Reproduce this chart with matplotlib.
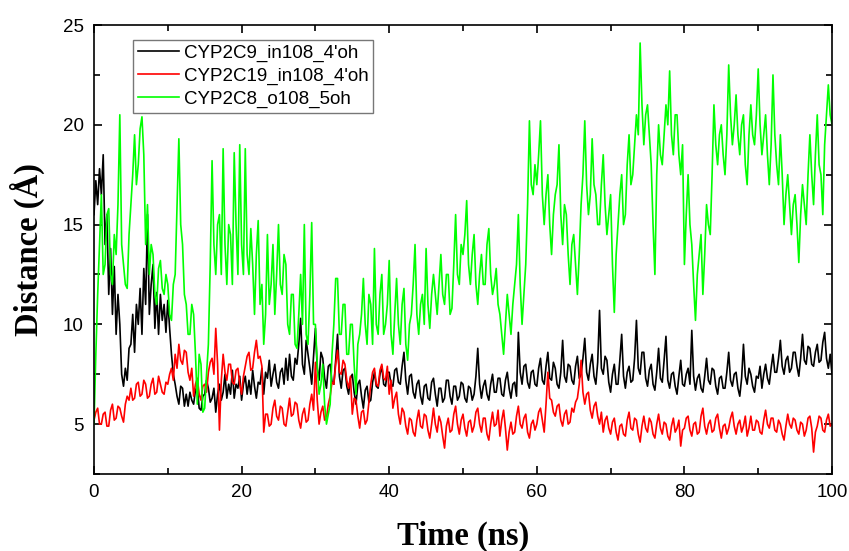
import numpy as np
import matplotlib
matplotlib.use("Agg")
import matplotlib.pyplot as plt
from matplotlib.ticker import MultipleLocator

# one reading every 0.25 ns, 0..100 ns
time_ns = np.arange(0, 100.25, 0.25)

# CYP2C9_in108_4'oh (black), one row = 5 ns
cyp2c9 = [
    15.5, 17.2, 16.0, 17.8, 16.5, 18.5, 14.0, 15.5, 11.5, 13.8, 10.5, 12.9, 9.5, 11.5, 10.0, 7.5, 6.9, 7.8, 7.2, 8.8,
    9.0, 10.5, 8.6, 11.0, 10.0, 11.8, 9.5, 12.8, 11.0, 15.5, 10.5, 12.0, 13.0, 9.8, 11.6, 9.5, 11.5, 10.2, 11.0, 9.6,
    11.2, 9.8, 8.5, 7.5, 7.0, 6.4, 6.0, 6.9, 6.8, 5.9, 6.5, 5.9, 6.6, 6.2, 6.0, 6.7, 6.9, 5.8, 5.7, 6.4,
    6.5, 7.2, 6.8, 6.1, 6.3, 6.8, 5.6, 6.5, 7.0, 6.2, 6.6, 7.5, 6.3, 7.0, 6.5, 7.7, 6.3, 7.0, 6.8, 7.4,
    6.2, 7.0, 7.4, 6.5, 7.2, 6.5, 7.7, 6.9, 6.3, 7.1, 7.0, 7.8, 6.5, 7.6, 7.3, 8.2, 6.9, 7.5, 8.0, 7.1,
    6.8, 7.6, 7.8, 7.0, 8.3, 7.2, 8.5, 7.4, 7.2, 8.3, 8.0, 9.0, 10.3, 8.0, 7.5, 9.2, 8.5, 7.8, 7.0, 8.4,
    9.8, 7.8, 7.2, 8.6, 8.3, 7.3, 6.8, 7.9, 8.0, 7.1, 7.0, 8.2, 9.5, 7.4, 6.8, 7.7, 7.8, 6.9, 6.5, 7.3,
    7.5, 6.6, 6.0, 7.0, 7.2, 6.4, 5.8, 6.7, 6.9, 6.1, 6.2, 7.1, 7.6, 6.9, 6.8, 7.5, 7.9, 7.0, 6.9, 7.6,
    7.6, 7.0, 6.9, 7.7, 7.8, 7.1, 7.0, 7.9, 8.6, 7.2, 6.5, 7.4, 7.5, 6.6, 6.3, 7.0, 7.2, 6.4, 6.0, 6.9,
    7.0, 6.3, 6.2, 7.1, 7.3, 6.5, 5.9, 6.8, 6.8, 6.1, 6.3, 7.2, 7.2, 6.4, 6.0, 6.9, 6.9, 6.2, 6.4, 7.1,
    7.0, 6.3, 6.1, 6.9, 6.8, 6.2, 6.5, 7.4, 8.8, 7.0, 6.3, 6.9, 7.2, 6.5, 6.2, 7.0, 7.5, 6.6, 6.6, 7.3,
    7.3, 6.5, 6.4, 7.2, 7.6, 6.8, 6.3, 7.0, 7.1, 6.4, 9.6, 7.6, 7.0, 7.9, 8.0, 7.1, 6.8, 7.6, 7.7, 7.0,
    6.9, 7.8, 8.3, 7.2, 7.0, 7.9, 8.6, 7.3, 7.2, 8.1, 7.8, 7.0, 6.8, 7.6, 9.2, 7.4, 7.1, 8.0, 7.9, 7.2,
    7.0, 7.9, 8.4, 7.3, 7.5, 8.3, 9.3, 7.6, 7.2, 8.0, 8.5, 7.4, 7.0, 8.1, 10.7, 7.8, 7.5, 8.4, 8.2, 7.1,
    6.6, 7.5, 8.0, 7.0, 7.0, 8.2, 9.5, 7.4, 6.8, 7.6, 7.9, 7.1, 7.2, 8.3, 10.2, 7.8, 7.5, 8.6, 8.6, 7.3,
    6.9, 7.7, 8.0, 7.0, 6.7, 7.6, 8.8, 7.3, 7.1, 8.2, 9.4, 7.2, 6.8, 7.5, 7.6, 6.9, 6.5, 7.4, 8.2, 7.0,
    6.9, 7.5, 7.8, 7.0, 9.7, 7.4, 6.7, 7.3, 7.5, 6.8, 6.6, 7.4, 8.3, 7.2, 7.0, 7.8, 7.7, 6.9, 6.5, 7.3,
    7.4, 6.8, 6.8, 7.6, 8.6, 7.2, 6.9, 7.5, 7.6, 6.8, 6.4, 7.3, 9.0, 7.4, 7.0, 7.8, 7.5, 6.9, 6.6, 7.4,
    7.3, 7.9, 6.8, 7.5, 8.0, 7.3, 7.0, 7.8, 8.5, 7.6, 7.6, 8.3, 9.2, 7.9, 7.5, 8.2, 8.4, 7.6, 7.8, 8.6,
    8.6, 7.9, 7.4, 8.3, 9.5, 8.2, 8.0, 8.9, 8.8, 8.0, 7.9, 8.6, 9.0, 8.1, 8.2, 9.1, 9.6, 8.3, 7.8, 8.5,
    7.5,
]

# CYP2C19_in108_4'oh (red)
cyp2c19 = [
    5.2, 5.6, 5.8, 5.0, 5.0, 5.5, 5.6, 4.9, 4.9, 5.7, 6.0, 5.2, 5.3, 5.9, 5.8, 5.4, 5.1, 6.0, 6.4, 6.2,
    6.8, 6.2, 6.3, 7.0, 7.1, 6.4, 6.5, 7.2, 7.0, 6.3, 6.4, 7.0, 7.3, 6.5, 6.6, 7.4, 7.0, 6.6, 6.5, 7.1,
    7.0, 7.5, 7.8, 7.2, 8.5, 7.8, 9.0, 8.2, 8.0, 8.7, 8.6, 7.6, 7.2, 7.8, 6.4, 7.0, 7.3, 6.5, 6.2, 6.9,
    7.0, 6.6, 7.6, 8.1, 8.3, 7.5, 9.8, 8.0, 4.7, 7.2, 8.5, 7.6, 7.2, 8.0, 8.0, 7.1, 7.0, 7.7, 7.8, 7.0,
    6.5, 7.4, 7.9, 8.4, 8.6, 7.7, 7.8, 8.6, 9.2, 8.3, 8.4, 7.9, 4.6, 5.5, 5.5, 4.9, 5.0, 5.8, 6.2, 5.4,
    5.2, 5.9, 5.8, 5.0, 4.9, 5.6, 6.3, 5.4, 5.5, 6.1, 6.0, 5.2, 4.8, 5.5, 5.8, 5.1, 5.2, 6.0, 6.5, 5.7,
    8.1, 6.2, 5.0, 5.6, 5.9, 5.2, 5.3, 6.0, 6.4, 7.1, 7.0, 8.0, 8.7, 7.6, 7.5, 8.2, 8.0, 7.2, 6.8, 7.4,
    5.5, 6.3, 6.2, 5.4, 4.8, 5.6, 5.7, 5.0, 5.2, 6.1, 7.0, 7.6, 7.8, 7.0, 6.9, 7.7, 8.0, 7.3, 7.2, 7.9,
    6.5, 7.2, 5.8, 6.3, 6.6, 5.5, 5.0, 5.8, 5.6, 4.9, 4.5, 5.3, 5.2, 4.6, 4.4, 5.2, 5.7, 4.9, 4.8, 5.5,
    5.4, 4.7, 4.3, 5.0, 5.8, 5.0, 4.6, 5.4, 5.1, 4.4, 3.8, 4.9, 5.3, 4.6, 4.7, 5.5, 5.9, 5.0, 4.5, 5.2,
    5.5, 4.8, 4.4, 5.1, 5.2, 4.6, 4.9, 5.6, 5.8, 5.0, 4.6, 5.3, 5.3, 4.5, 4.2, 5.0, 5.6, 4.9, 5.0, 5.7,
    4.4, 5.2, 5.7, 4.8, 3.7, 4.6, 5.1, 4.5, 4.6, 5.4, 5.9, 5.0, 4.8, 5.3, 5.5, 4.6, 4.3, 5.0, 5.2, 4.7,
    5.0, 5.6, 5.8, 5.2, 4.6, 6.0, 7.6, 6.3, 6.2, 5.6, 5.4, 5.9, 6.0, 5.2, 4.9, 5.5, 5.7, 5.0, 5.1, 5.8,
    5.6, 6.1, 6.3, 7.0, 8.2, 6.6, 6.0, 6.5, 6.6, 5.7, 5.3, 5.9, 6.1, 5.4, 5.0, 5.6, 4.6, 5.2, 5.4, 4.8,
    4.5, 5.1, 5.3, 4.6, 4.2, 4.9, 5.0, 4.5, 4.4, 5.2, 5.6, 4.8, 4.7, 5.3, 5.2, 4.5, 4.1, 4.9, 5.4, 4.8,
    4.6, 5.3, 5.1, 4.5, 4.3, 5.0, 5.5, 4.8, 4.5, 5.1, 5.0, 4.4, 4.2, 4.9, 5.3, 4.6, 4.8, 5.2, 3.9, 4.7,
    4.8, 5.3, 5.4, 4.7, 4.4, 5.0, 5.1, 4.5, 4.6, 5.4, 5.8, 4.9, 4.5, 5.0, 5.2, 4.6, 4.7, 5.3, 5.5, 4.8,
    4.3, 4.9, 5.0, 4.5, 4.8, 5.3, 5.6, 4.9, 4.5, 5.0, 5.2, 4.6, 4.9, 5.4, 4.4, 4.8, 5.4, 4.7, 4.7, 5.2,
    5.1, 4.6, 4.5, 5.2, 5.7, 5.0, 4.8, 5.3, 5.3, 4.7, 4.6, 5.2, 5.0, 4.5, 4.2, 4.9, 5.5, 5.0, 4.8, 5.3,
    5.2, 4.7, 4.5, 5.1, 5.0, 4.4, 4.7, 5.3, 5.4, 4.8, 3.6, 4.6, 4.9, 5.4, 5.3, 4.7, 4.6, 5.2, 5.5, 4.9,
    5.0,
]

# CYP2C8_o108_5oh (green)
cyp2c8 = [
    5.0, 8.5, 11.5, 14.0, 16.5, 12.5, 13.0, 15.5, 15.8, 12.5, 12.0, 14.5, 13.5, 16.0, 20.5, 14.0, 13.0, 12.0, 11.8, 14.5,
    16.0, 17.5, 19.5, 17.0, 18.0, 19.8, 20.4, 18.5, 14.0, 16.0, 12.5, 14.0, 13.5, 11.5, 11.0, 12.8, 13.2, 11.8, 11.5, 12.5,
    12.0, 10.5, 10.2, 12.0, 12.5, 16.0, 19.3, 15.0, 14.0, 11.5, 11.0, 9.5, 9.5, 11.0, 10.5, 8.5, 6.0, 8.5, 8.0, 5.6,
    5.8, 7.5, 9.0, 13.0, 18.2, 14.0, 12.5, 15.0, 15.5, 12.5, 18.8, 14.0, 12.0, 15.0, 14.5, 12.0, 18.6, 15.0, 12.5, 19.0,
    14.0, 12.5, 18.8, 13.5, 12.5, 14.8, 13.0, 10.5, 13.5, 15.2, 11.0, 12.0, 9.0, 10.5, 14.5, 11.0, 12.0, 14.0, 10.5, 12.5,
    15.0, 12.0, 11.5, 13.5, 13.0, 10.0, 9.5, 11.5, 11.5, 9.0, 8.8, 10.5, 12.5, 10.0, 15.0, 9.5, 9.0, 11.5, 15.1, 10.0,
    10.0, 8.0, 6.5, 7.0, 8.0, 6.0, 5.0, 5.5, 6.0, 8.5, 10.0, 12.3, 12.3, 9.5, 9.5, 11.0, 11.0, 8.5, 8.5, 10.0,
    10.0, 8.0, 6.5, 9.0, 9.5, 10.5, 12.3, 10.0, 9.0, 11.5, 11.0, 9.0, 13.8, 10.0, 9.5, 11.5, 12.5, 9.5, 10.0, 11.0,
    13.2, 9.5, 8.5, 10.5, 12.3, 10.0, 9.0, 11.0, 11.8, 9.0, 8.2, 10.0, 10.5, 12.0, 14.0, 10.5, 9.5, 11.0, 11.5, 10.0,
    13.8, 11.0, 9.8, 11.5, 12.5, 11.5, 10.5, 12.0, 13.5, 11.5, 11.0, 12.5, 12.5, 10.5, 10.8, 13.0, 15.5, 12.5, 12.0, 14.0,
    13.5, 14.5, 16.2, 13.0, 12.0, 13.5, 14.5, 12.0, 11.0, 12.5, 13.5, 12.0, 12.0, 14.0, 14.8, 12.5, 11.5, 12.0, 12.8, 11.0,
    10.5, 9.5, 8.5, 10.0, 11.5, 10.5, 9.5, 11.0, 12.0, 13.0, 15.5, 12.0, 10.0, 11.5, 13.0, 16.0, 20.2, 17.0, 16.5, 18.0,
    17.0, 18.5, 20.2, 16.5, 15.0, 16.5, 17.5, 15.0, 13.5, 15.5, 16.5, 17.0, 19.0, 15.5, 14.0, 16.0, 15.5, 13.5, 12.0, 14.0,
    14.5, 13.0, 11.5, 13.5, 16.0, 17.5, 20.2, 17.0, 15.5, 16.5, 19.3, 17.0, 16.5, 15.0, 15.0, 17.0, 18.5, 16.0, 14.5, 15.5,
    16.5, 13.0, 10.6, 13.5, 15.0, 16.5, 17.5, 15.0, 15.5, 18.0, 19.5, 17.0, 17.5, 19.0, 20.5, 19.5, 24.1, 21.0, 19.0, 20.5,
    21.0, 19.5, 18.0, 15.0, 12.5, 17.5, 20.0, 18.5, 18.0, 19.5, 21.0, 20.0, 22.7, 19.5, 18.5, 20.5, 20.5, 18.5, 17.5, 19.0,
    13.0, 15.5, 17.5, 15.0, 14.0, 12.0, 10.2, 12.5, 13.5, 14.5, 11.5, 13.5, 16.0, 15.0, 14.5, 17.5, 21.0, 19.0, 18.0, 19.5,
    20.0, 18.5, 17.5, 19.5, 23.0, 20.5, 19.0, 20.0, 21.5, 19.5, 18.5, 20.0, 20.5, 18.0, 17.0, 19.5, 21.0, 19.5, 19.0, 20.5,
    22.8, 20.0, 18.5, 19.5, 20.5, 18.5, 17.0, 19.0, 22.5, 19.5, 18.0, 17.0, 19.5, 17.5, 15.0, 16.5, 17.5, 16.0, 14.5, 16.0,
    16.5, 15.0, 13.1, 15.5, 17.0, 16.0, 15.0, 17.5, 19.5, 17.5, 16.0, 18.5, 20.5, 18.0, 17.5, 15.5, 19.0, 20.5, 22.0, 20.5,
    20.0,
]

labels = ["CYP2C9_in108_4'oh", "CYP2C19_in108_4'oh", "CYP2C8_o108_5oh"]
colors = ["#000000", "#ff0000", "#00ff00"]

plt.rcParams["font.family"] = ["Liberation Sans", "DejaVu Sans"]

fig = plt.figure(figsize=(8.49, 5.51), dpi=100)
ax = fig.add_axes([0.1107, 0.1397, 0.8693, 0.8149])

for series, lab, col in zip([cyp2c9, cyp2c19, cyp2c8], labels, colors):
    ax.plot(time_ns, series, color=col, lw=1.2, label=lab)

ax.set_xlim(0, 100)
ax.set_ylim(2.5, 25)
ax.xaxis.set_major_locator(MultipleLocator(20))
ax.xaxis.set_minor_locator(MultipleLocator(10))
ax.yaxis.set_major_locator(MultipleLocator(5))
ax.yaxis.set_minor_locator(MultipleLocator(2.5))
ax.tick_params(which="both", direction="in", top=True, right=True, width=1.2)
ax.tick_params(which="major", length=6, labelsize=13.5, pad=7.5)
ax.tick_params(which="minor", length=4)
for sp in ax.spines.values():
    sp.set_linewidth(1.2)

serif_bold = dict(family=["Liberation Serif", "DejaVu Serif"], weight="bold", size=23.5)
ax.set_xlabel("Time (ns)", labelpad=14, **serif_bold)
ax.set_ylabel("Distance (\u00c5)", labelpad=13, **serif_bold)

leg = ax.legend(loc="upper left", bbox_to_anchor=(0.0528, 0.9666), fontsize=13.5,
                frameon=True, fancybox=False, handlelength=2.2, handletextpad=0.27,
                borderpad=0.25, labelspacing=0.3, borderaxespad=0)
leg.get_frame().set_edgecolor("#555555")
leg.get_frame().set_linewidth(1.0)

fig.savefig("out.png", dpi=100)
